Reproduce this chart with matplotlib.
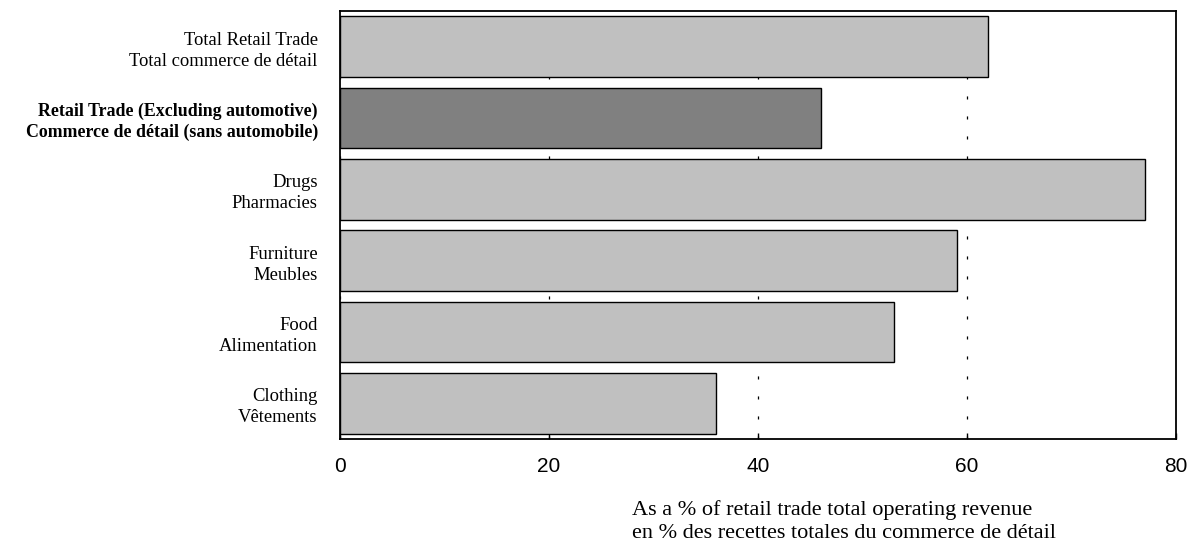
import matplotlib
matplotlib.use("Agg")
import matplotlib.pyplot as plt

categories = [
    "Total Retail Trade\nTotal commerce de détail",
    "Retail Trade (Excluding automotive)\nCommerce de détail (sans automobile)",
    "Drugs\nPharmacies",
    "Furniture\nMeubles",
    "Food\nAlimentation",
    "Clothing\nVêtements",
]
values = [62, 46, 77, 59, 53, 36]
bar_colors = ["#c0c0c0", "#808080", "#c0c0c0", "#c0c0c0", "#c0c0c0", "#c0c0c0"]
bold_flags = [False, True, False, False, False, False]
xticks = [0, 20, 40, 60, 80]
title_lines = [
    "As a % of retail trade total operating revenue",
    "en % des recettes totales du commerce de détail",
]

plt.rcParams["lines.scale_dashes"] = False
W, H = 1198, 549
fig = plt.figure(figsize=(W / 100, H / 100), dpi=100)
ax = fig.add_axes([340 / W, 1 - 439 / H, (1176 - 340) / W, (439 - 11) / H])

ypos = list(range(len(categories)))
ax.barh(ypos, values, height=0.855, color=bar_colors, edgecolor="black",
        linewidth=1.0, zorder=3)

ax.set_xlim(0, 80)
ax.set_ylim(len(categories) - 0.5, -0.5)
ax.set_xticks(xticks)
ax.set_xticklabels([str(t) for t in xticks], family="Liberation Sans", fontsize=15)
ax.tick_params(axis="x", direction="in", length=4, width=1, pad=13, top=False)
ax.set_yticks(ypos)
ax.set_yticklabels(categories, family="Liberation Serif", fontsize=13.4,
                   linespacing=1.3)
for lab, b in zip(ax.get_yticklabels(), bold_flags):
    if b:
        lab.set_fontweight("bold")
        lab.set_fontsize(12.9)
ax.tick_params(axis="y", length=0, pad=16)

ax.set_axisbelow(True)
ax.grid(axis="x", color="black", linewidth=0.9, linestyle=(0, (2.2, 12.2)))
ax.grid(axis="y", visible=False)
for s in ax.spines.values():
    s.set_linewidth(1.3)
    s.set_color("black")

fig.text(632 / W, 1 - 515 / H, title_lines[0], family="Liberation Serif",
         fontsize=16, ha="left", va="baseline")
fig.text(632 / W, 1 - 538 / H, title_lines[1], family="Liberation Serif",
         fontsize=16, ha="left", va="baseline")

fig.savefig("out.png", dpi=100, facecolor="white")
